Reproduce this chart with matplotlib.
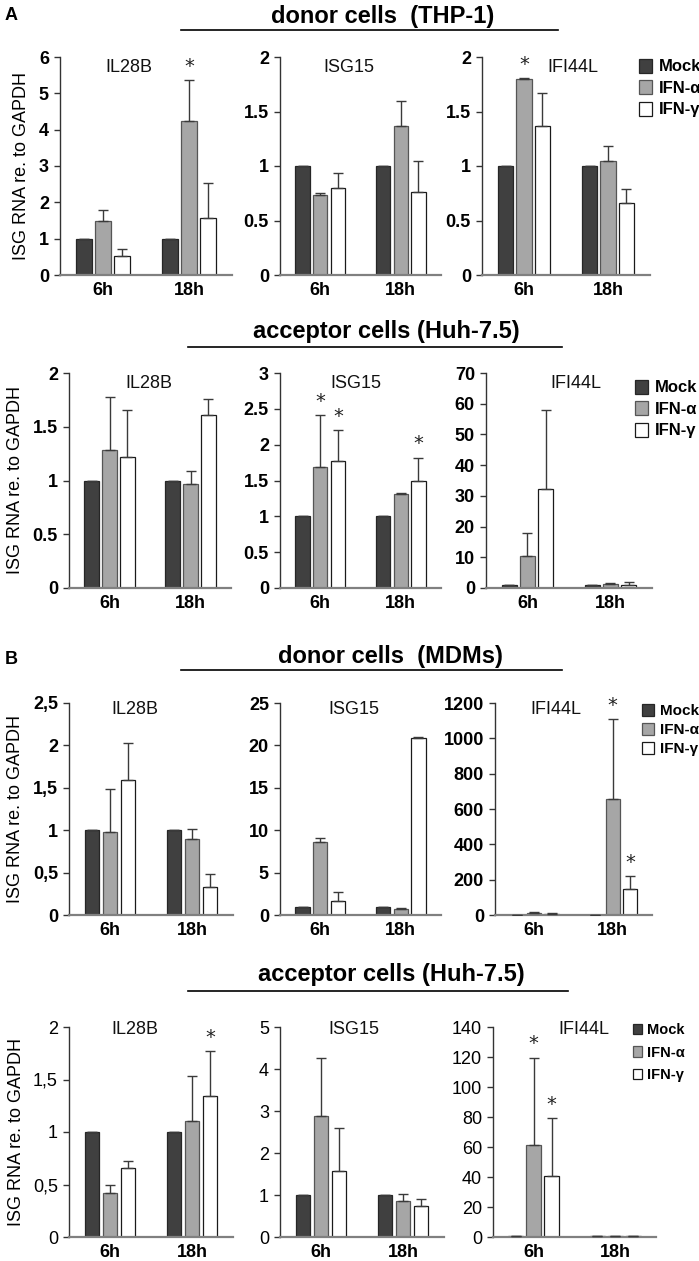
import matplotlib
matplotlib.use('Agg')
import matplotlib.pyplot as plt
import numpy as np
from matplotlib.ticker import FuncFormatter

plt.rcParams['font.family'] = ['Liberation Sans Narrow', 'Liberation Sans', 'DejaVu Sans']

W, H = 699, 1261
fig = plt.figure(figsize=(W / 100, H / 100), dpi=100)

# ---------------- data ----------------
timepoints = ['6h', '18h']
series_names = ['Mock', 'IFN-α', 'IFN-γ']
genes = ['IL28B', 'ISG15', 'IFI44L']
section_titles = ['donor cells  (THP-1)', 'acceptor cells (Huh-7.5)',
                  'donor cells  (MDMs)', 'acceptor cells (Huh-7.5)']

# Row 1: donor THP-1
r1_mock = [[1, 1], [1, 1], [1, 1]]
r1_alpha = [[1.49, 4.25], [0.73, 1.37], [1.80, 1.05]]
r1_gamma = [[0.52, 1.58], [0.80, 0.76], [1.37, 0.66]]
r1_alpha_err = [[0.29, 1.11], [0.02, 0.23], [0.01, 0.13]]
r1_gamma_err = [[0.20, 0.96], [0.14, 0.29], [0.30, 0.13]]
r1_ymax = [6, 2, 2]
r1_ystep = [1, 0.5, 0.5]
r1_stars = [(0, 1, 1), (2, 0, 1)]  # (gene, timepoint, series)

# Row 2: acceptor Huh-7.5 (THP-1 co-culture)
r2_mock = [[1, 1], [1, 1], [0.9, 0.9]]
r2_alpha = [[1.285, 0.97], [1.69, 1.31], [10.4, 1.4]]
r2_gamma = [[1.22, 1.605], [1.77, 1.49], [32.3, 1.1]]
r2_alpha_err = [[0.495, 0.12], [0.72, 0.02], [7.65, 0.2]]
r2_gamma_err = [[0.44, 0.155], [0.43, 0.33], [25.5, 0.9]]
r2_ymax = [2, 3, 70]
r2_ystep = [0.5, 0.5, 10]
r2_stars = [(1, 0, 1), (1, 0, 2), (1, 1, 2)]

# Row 3: donor MDMs
r3_mock = [[1, 1], [1, 1], [2, 1]]
r3_alpha = [[0.98, 0.90], [8.6, 0.7], [10, 656]]
r3_gamma = [[1.59, 0.335], [1.6, 20.9], [6, 146]]
r3_alpha_err = [[0.50, 0.12], [0.45, 0.1], [6, 455]]
r3_gamma_err = [[0.44, 0.145], [1.15, 0.05], [3, 76]]
r3_ymax = [2.5, 25, 1200]
r3_ystep = [0.5, 5, 200]
r3_stars = [(2, 1, 1), (2, 1, 2)]

# Row 4: acceptor Huh-7.5 (MDM co-culture)
r4_mock = [[1, 1], [1, 1], [1, 1]]
r4_alpha = [[0.42, 1.105], [2.88, 0.85], [61.6, 0.8]]
r4_gamma = [[0.657, 1.343], [1.58, 0.75], [40.8, 0.6]]
r4_alpha_err = [[0.075, 0.425], [1.39, 0.18], [58, 0.2]]
r4_gamma_err = [[0.067, 0.427], [1.01, 0.16], [38.7, 0.2]]
r4_ymax = [2, 5, 140]
r4_ystep = [0.5, 1, 20]
r4_stars = [(0, 1, 2), (2, 0, 1), (2, 0, 2)]

rows = [
    (r1_mock, r1_alpha, r1_gamma, r1_alpha_err, r1_gamma_err, r1_ymax, r1_ystep, r1_stars),
    (r2_mock, r2_alpha, r2_gamma, r2_alpha_err, r2_gamma_err, r2_ymax, r2_ystep, r2_stars),
    (r3_mock, r3_alpha, r3_gamma, r3_alpha_err, r3_gamma_err, r3_ymax, r3_ystep, r3_stars),
    (r4_mock, r4_alpha, r4_gamma, r4_alpha_err, r4_gamma_err, r4_ymax, r4_ystep, r4_stars),
]

# ---------------- styling / layout ----------------
bar_colors = ['#404040', '#a6a6a6', '#ffffff']
bar_edges = ['#262626', '#555555', '#1a1a1a']
row_comma = [False, False, True, True]
row_tick_weight = ['bold', 'bold', 'bold', 'normal']

row_ytop = [57, 373, 703, 1027]
row_ybot = [275, 588, 915, 1237]
row_xs = [
    [(60, 232), (280, 441), (482, 650)],
    [(69, 231), (280, 441), (486, 652)],
    [(69, 233), (280, 441), (495, 652)],
    [(69, 233), (280, 444), (493, 656)],
]
title_pos = [
    [(0.40, 0.95), (0.43, 0.95), (0.54, 0.95)],
    [(0.49, 0.95), (0.47, 0.95), (0.54, 0.95)],
    [(0.40, 0.97), (0.46, 0.97), (0.39, 0.97)],
    [(0.40, 0.99), (0.45, 0.99), (0.56, 0.99)],
]
section_y = [16, 332, 657, 975]
section_line_y = [30, 347, 670, 991]
section_line_x = [(181, 558), (188, 562), (181, 562), (188, 568)]
section_x = [383, 386, 390, 391]
legend_pos = [(632, 52), (628, 373), (636, 698), (627, 1017)]
legend_fs = [12, 12, 11, 10.5]
legend_hsize = [0.8, 0.8, 0.75, 0.6]
legend_spacing = [0.35, 0.35, 0.3, 0.6]


def fx(px):
    return px / W


def fy(py):
    return 1 - py / H


def make_formatter(comma):
    def f(v, pos):
        s = ('%g' % v)
        return s.replace('.', ',') if comma else s
    return FuncFormatter(f)


x = np.arange(len(timepoints))
bw = 0.18
gap = 0.22

for r, (mock, alpha, gamma, aerr, gerr, ymax, ystep, stars) in enumerate(rows):
    for g in range(3):
        x0, x1 = row_xs[r][g]
        ax = fig.add_axes([fx(x0), fy(row_ybot[r]), fx(x1 - x0), (row_ybot[r] - row_ytop[r]) / H])
        vals = [mock[g], alpha[g], gamma[g]]
        errs = [[0, 0], aerr[g], gerr[g]]
        handles = []
        for s in range(3):
            xs = x + (s - 1) * gap
            b = ax.bar(xs, vals[s], width=bw, color=bar_colors[s], edgecolor=bar_edges[s],
                       linewidth=0.9, zorder=2)
            handles.append(b)
            ax.errorbar(xs, vals[s], yerr=[np.zeros(2), errs[s]], fmt='none',
                        ecolor='#3a3a3a', elinewidth=1.0, capsize=3.5, capthick=1.0, zorder=3)
        for (sg, st, ss) in stars:
            if sg == g:
                top = vals[ss][st] + errs[ss][st]
                ax.annotate('*', (x[st] + (ss - 1) * gap, top), xytext=(0, 3),
                            textcoords='offset points', ha='center', va='bottom',
                            fontsize=14, color='#222222', family=['DejaVu Sans'])
        ax.set_xlim(-0.5, 1.5)
        ax.set_ylim(0, ymax[g])
        ax.set_yticks(np.arange(0, ymax[g] + ystep[g] / 2, ystep[g]))
        ax.yaxis.set_major_formatter(make_formatter(row_comma[r]))
        ax.set_xticks(x)
        ax.set_xticklabels(timepoints)
        for sp in ['top', 'right']:
            ax.spines[sp].set_visible(False)
        ax.spines['left'].set_color('#333333')
        ax.spines['left'].set_linewidth(1.0)
        ax.spines['bottom'].set_color('#808080')
        ax.spines['bottom'].set_linewidth(1.6)
        ax.tick_params(axis='x', length=0, pad=5, labelsize=13)
        ax.tick_params(axis='y', length=4, width=1, color='#333333', pad=4, labelsize=13)
        for lab in ax.get_xticklabels():
            lab.set_fontweight('bold')
        for lab in ax.get_yticklabels():
            lab.set_fontweight(row_tick_weight[r])
        tx, ty = title_pos[r][g]
        ax.text(tx, ty, genes[g], transform=ax.transAxes, ha='center', va='center',
                fontsize=13, color='#111111')
        ax.set_facecolor('none')
        if g == 0:
            ax.set_ylabel('ISG RNA re. to GAPDH', family=['Liberation Sans', 'DejaVu Sans'],
                          fontsize=13, labelpad=6)
        if g == 2:
            lx, ly = legend_pos[r]
            fig.legend(handles, series_names, loc='upper left',
                       bbox_to_anchor=(fx(lx), fy(ly)), frameon=False,
                       handlelength=legend_hsize[r], handleheight=legend_hsize[r] + 0.1,
                       handletextpad=0.4, labelspacing=legend_spacing[r], borderaxespad=0,
                       prop={'size': legend_fs[r], 'weight': 'bold'})

    # section title and line
    fig.text(fx(section_x[r]), fy(section_y[r]), section_titles[r], ha='center', va='center',
             fontsize=17, fontweight='bold')
    lx0, lx1 = section_line_x[r]
    fig.add_artist(plt.Line2D([fx(lx0), fx(lx1)], [fy(section_line_y[r])] * 2,
                              color='black', linewidth=1.2))

fig.text(fx(11), fy(15), 'A', ha='center', va='center', fontsize=13, fontweight='bold')
fig.text(fx(11), fy(660), 'B', ha='center', va='center', fontsize=13, fontweight='bold')

fig.savefig('out.png', dpi=100, facecolor='white')
